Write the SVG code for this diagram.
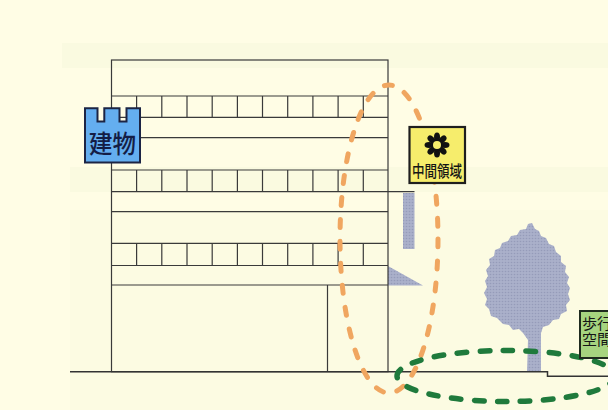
<svg xmlns="http://www.w3.org/2000/svg" width="608" height="410" viewBox="0 0 608 410">
  <defs>
    <style>
      .bldg { fill: none; stroke: #3a3a3a; stroke-width: 1.2; }
      .ground { fill: none; stroke: #333; stroke-width: 1.5; }
      .tone { fill: url(#dots); }
      .label { font-family: "Noto Sans CJK JP", "Noto Sans", sans-serif; }
      .zone-orange { fill: none; stroke: #f0a660; stroke-width: 5; stroke-dasharray: 8 14; stroke-linecap: round; }
      .zone-green { fill: none; stroke: #1f7a3c; stroke-width: 5.5; stroke-dasharray: 9.5 13.5; stroke-linecap: round; }
    </style>
    <!-- screen-tone fill for tree and shadows -->
    <pattern id="dots" width="3" height="3" patternUnits="userSpaceOnUse">
      <rect width="3" height="3" fill="#aab0ca"/>
      <circle cx="1.5" cy="1.5" r="0.8" fill="#959bb9"/>
    </pattern>
  </defs>

  <!-- paper -->
  <rect width="608" height="410" fill="#fffde5"/>
  <rect x="62" y="43" width="546" height="25" fill="#f6f8dc" opacity="0.6"/>
  <rect x="70" y="167" width="538" height="25" fill="#f6f8dc" opacity="0.5"/>
  <rect x="70" y="210" width="538" height="200" fill="#fafae0" opacity="0.6"/>

  <!-- tree -->
  <g id="tree">
    <path class="tone" d="M532,223 L535,229 L539,231 L541,236 L546,238 L549,244 L554,246 L556,252 L561,256 L561,262 L566,266 L565,272 L569,277 L567,283 L570,288 L568,294 L570,300 L566,305 L567,311 L561,314 L559,319 L553,320 L549,325 L543,327 L541,333 L541,372 L527,372 L528,340 L523,333 L519,329 L513,330 L509,325 L503,324 L497,318 L491,316 L489,309 L485,305 L487,299 L484,293 L487,287 L485,281 L488,276 L486,270 L490,265 L489,259 L494,256 L495,250 L500,248 L502,243 L508,241 L511,236 L517,235 L520,230 L526,229 L528,224 Z"/>
  </g>

  <!-- shadows under the upper floors -->
  <g id="shadows">
    <rect class="tone" x="403" y="193" width="11.5" height="56"/>
    <polygon class="tone" points="388,266 388,285.5 423,285.5"/>
  </g>

  <!-- building elevation -->
  <g id="building">
    <rect class="bldg" x="111.5" y="60" width="276.5" height="311.7"/>
    <path class="bldg" d="M111.5,96 H388 M111.5,117.3 H388 M111.5,137.7 H388 M111.5,170 H388 M111.5,191.7 H414.5 M111.5,211.7 H388 M111.5,243.3 H388 M111.5,265.5 H388 M111.5,285 H388 M327.5,285 V371.7"/>
    <!-- window mullions -->
    <path class="bldg" d="M136.6,96 V117.3 M161.8,96 V117.3 M187,96 V117.3 M212.2,96 V117.3 M237.4,96 V117.3 M262.5,96 V117.3 M287.7,96 V117.3 M312.9,96 V117.3 M338.1,96 V117.3 M363.3,96 V117.3"/>
    <path class="bldg" d="M136.6,170 V191.7 M161.8,170 V191.7 M187,170 V191.7 M212.2,170 V191.7 M237.4,170 V191.7 M262.5,170 V191.7 M287.7,170 V191.7 M312.9,170 V191.7 M338.1,170 V191.7 M363.3,170 V191.7"/>
    <path class="bldg" d="M136.6,243.3 V265.5 M161.8,243.3 V265.5 M187,243.3 V265.5 M212.2,243.3 V265.5 M237.4,243.3 V265.5 M262.5,243.3 V265.5 M287.7,243.3 V265.5 M312.9,243.3 V265.5 M338.1,243.3 V265.5 M363.3,243.3 V265.5"/>
  </g>

  <!-- ground with kerb step -->
  <g id="ground">
    <path class="ground" d="M70,371.7 H547.5 V376.3 H608"/>
  </g>

  <!-- zone outlines -->
  <g id="connectors">
    <ellipse class="zone-orange" cx="389" cy="239" rx="49" ry="154"/>
    <ellipse class="zone-green" cx="506" cy="376" rx="109" ry="25.5"/>
  </g>

  <!-- building tag -->
  <g id="node-building">
    <path d="M85,108.3 H97.5 V121.5 H104.3 V108.3 H119.5 V121.5 H126.5 V108.3 H140 V162.5 H85 Z" fill="#64aef0" stroke="#1c2444" stroke-width="2" stroke-linejoin="miter"/>
    <text class="label" x="112.5" y="153.3" font-size="25" font-weight="500" text-anchor="middle" textLength="47" lengthAdjust="spacingAndGlyphs" fill="#141d45">建物</text>
  </g>

  <!-- intermediate zone tag -->
  <g id="node-intermediate">
    <rect x="409.5" y="127" width="55.5" height="56" fill="#f6ed6c" stroke="#1e1e1e" stroke-width="2.2"/>
    <g transform="translate(437,145)" fill="#111">
      <ellipse cx="0" cy="-8" rx="3" ry="4.5"/>
      <ellipse cx="0" cy="-8" rx="3" ry="4.5" transform="rotate(45)"/>
      <ellipse cx="0" cy="-8" rx="3" ry="4.5" transform="rotate(90)"/>
      <ellipse cx="0" cy="-8" rx="3" ry="4.5" transform="rotate(135)"/>
      <ellipse cx="0" cy="-8" rx="3" ry="4.5" transform="rotate(180)"/>
      <ellipse cx="0" cy="-8" rx="3" ry="4.5" transform="rotate(225)"/>
      <ellipse cx="0" cy="-8" rx="3" ry="4.5" transform="rotate(270)"/>
      <ellipse cx="0" cy="-8" rx="3" ry="4.5" transform="rotate(315)"/>
      <circle r="6.5"/>
      <circle r="4" fill="#f6ed6c"/>
    </g>
    <text class="label" x="412" y="177" font-size="16" font-weight="500" textLength="50" lengthAdjust="spacingAndGlyphs" fill="#151515">中間領域</text>
  </g>

  <!-- pedestrian space tag -->
  <g id="node-pedestrian">
    <rect x="580" y="311" width="50" height="47" fill="#a6d47f" stroke="#1e2a1e" stroke-width="2"/>
    <text class="label" x="582" y="329" font-size="15" fill="#151515">歩行</text>
    <text class="label" x="582" y="345" font-size="15" fill="#151515">空間</text>
  </g>
</svg>
